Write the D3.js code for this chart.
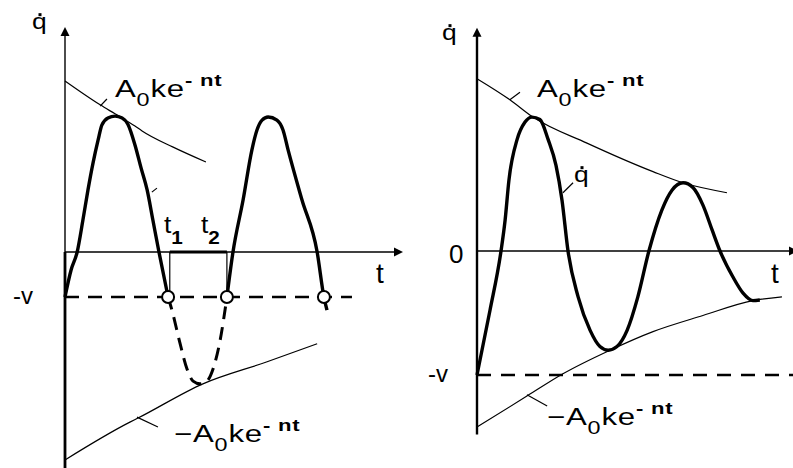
<!DOCTYPE html>
<html>
<head>
<meta charset="utf-8">
<script src="https://cdn.jsdelivr.net/npm/d3@7"></script>
<style>
  html, body { margin: 0; padding: 0; background: #fff; }
  svg { display: block; }
  text { font-family: "Liberation Sans", Arial, sans-serif; fill: #000; }
</style>
</head>
<body>
<svg id="chart" width="793" height="468"></svg>
<script>
// ---------- Left panel: impacts against the -v level ----------
// [t, q̇] points, q̇ in units of v
const leftLobe1 = [[0,-1.0],[0.18,-0.40],[0.36,0],[0.53,0.71],[0.68,1.38],[0.83,1.98],[0.98,2.49],
  [1.09,2.82],[1.27,2.98],[1.48,3.02],[1.69,2.98],[1.86,2.84],[2.07,2.38],[2.25,1.87],[2.43,1.38],
  [2.60,0.71],[2.78,0],[3.05,-1.0]];
const leftDip = [[3.05,-1.0],[3.17,-1.31],[3.40,-2.02],[3.61,-2.60],[3.79,-2.87],[3.99,-2.93],
  [4.20,-2.87],[4.38,-2.60],[4.59,-1.96],[4.79,-1.0]];
const leftLobe2 = [[4.79,-1.0],[4.97,0],[5.27,1.16],[5.53,2.27],[5.68,2.71],[5.83,2.93],[6.01,3.0],
  [6.27,2.93],[6.45,2.71],[6.60,2.27],[7.01,1.16],[7.46,0],[7.66,-1.0],[7.75,-1.29]];
const leftUpperEnv = [[0,3.80],[1.04,3.27],[1.48,3.07],[2.07,2.80],[2.28,2.69],[3.20,2.33],[4.17,2.0]];
const leftLowerEnv = [[0,-4.62],[1.92,-3.78],[2.16,-3.69],[4.08,-2.93],[5.98,-2.44],[7.46,-2.04]];
const leftImpacts = [3.05, 4.79, 7.66];
const leftInterval = [3.1, 4.79];          // t1, t2
const leftLevel = -1;                      // -v
const leftLevelEnd = 8.49;

// ---------- Right panel: damped response ----------
const rightCurve = [[0,-1.0],[0.41,-0.48],[0.76,0],[0.89,0.25],[1.01,0.57],[1.27,0.90],[1.52,1.04],
  [1.74,1.08],[1.99,1.06],[2.25,0.90],[2.50,0.69],[2.69,0.41],[2.88,0],[3.20,-0.37],[3.58,-0.64],
  [3.89,-0.77],[4.15,-0.80],[4.43,-0.77],[4.75,-0.64],[5.09,-0.37],[5.44,0],[5.85,0.33],[6.17,0.49],
  [6.52,0.55],[6.84,0.51],[7.15,0.37],[7.44,0.17],[7.69,0],[8.10,-0.21],[8.42,-0.34],[8.73,-0.40],
  [8.95,-0.395]];
const rightUpperEnv = [[0,1.39],[1.04,1.22],[1.77,1.08],[3.48,0.87],[5.57,0.64],[6.52,0.55],[7.91,0.47]];
const rightLowerEnv = [[0,-1.42],[1.58,-1.17],[2.72,-0.99],[4.21,-0.80],[5.57,-0.65],[7.15,-0.52],
  [8.73,-0.40],[9.65,-0.37]];
const rightLevel = -1;

// label texts
const levelLabel = "-v";
const zeroLabel = "0";
const timeLabel = "t";

// ---------- scales ----------
const xL = d3.scaleLinear().domain([0, 10]).range([65, 403]);
const yL = d3.scaleLinear().domain([-1, 0]).range([297, 252]);
const xR = d3.scaleLinear().domain([0, 10]).range([477, 793]);
const yR = d3.scaleLinear().domain([-1, 0]).range([375, 251]);

const svg = d3.select("#chart");
svg.append("rect").attr("width", 793).attr("height", 468).attr("fill", "#fff");

const lineL = d3.line().x(d => xL(d[0])).y(d => yL(d[1])).curve(d3.curveMonotoneX);
const lineR = d3.line().x(d => xR(d[0])).y(d => yR(d[1])).curve(d3.curveMonotoneX);

function seg(g, x1, y1, x2, y2, w) {
  return g.append("line").attr("x1", x1).attr("y1", y1).attr("x2", x2).attr("y2", y2)
    .attr("stroke", "#000").attr("stroke-width", w);
}
function arrowUp(g, x, y) {
  g.append("path").attr("d", `M${x},${y} L${x - 4.5},${y + 9} L${x + 4.5},${y + 9} Z`).attr("fill", "#000");
}
function arrowRight(g, x, y) {
  g.append("path").attr("d", `M${x},${y} L${x - 9},${y - 4.5} L${x - 9},${y + 4.5} Z`).attr("fill", "#000");
}
function qdot(g, x, y, size) {
  g.append("text").attr("transform", `translate(${x},${y}) scale(1.2,1)`)
    .style("font-size", size + "px").text("q");
  g.append("rect").attr("x", x + 6.5).attr("y", y - size * 0.72).attr("width", 3).attr("height", 3).attr("fill", "#000");
}
function formula(g, x, y, neg) {
  const t = g.append("text").attr("transform", `translate(${x},${y}) scale(1.3,1)`)
    .style("font-size", "24px").style("letter-spacing", "0.6px");
  if (neg) t.append("tspan").text("\u2212");
  t.append("tspan").text("A");
  t.append("tspan").attr("dy", 9).style("font-size", "18px").text("0");
  t.append("tspan").attr("dy", -9).text("ke");
  t.append("tspan").attr("dy", -11).style("font-size", "17px").style("font-weight", "bold").text("- nt");
}
function subLabel(g, x, y, main, sub) {
  const t = g.append("text").attr("transform", `translate(${x},${y}) scale(1.15,1)`).style("font-size", "23px");
  t.append("tspan").text(main);
  t.append("tspan").attr("dy", 11).style("font-size", "18px").style("font-weight", "bold").text(sub);
}

// ================= LEFT PANEL =================
const gl = svg.append("g");

// envelopes
gl.append("path").attr("d", lineL(leftUpperEnv)).attr("fill", "none").attr("stroke", "#000").attr("stroke-width", 1.2);
gl.append("path").attr("d", lineL(leftLowerEnv)).attr("fill", "none").attr("stroke", "#000").attr("stroke-width", 1.2);

// axes
seg(gl, xL(0), yL(5.0) + 6, xL(0), yL(0), 1.4);
seg(gl, xL(0), yL(0), xL(0), yL(-4.8), 2.8);
arrowUp(gl, xL(0), yL(5.0));
seg(gl, xL(0), yL(0), xL(10) - 6, yL(0), 1.3);
arrowRight(gl, xL(10), yL(0));

// -v level
seg(gl, xL(0), yL(leftLevel), xL(leftLevelEnd), yL(leftLevel), 2.6).attr("stroke-dasharray", "14,9");

// t1 - t2 interval
seg(gl, xL(leftInterval[0]), yL(0), xL(leftInterval[0]), yL(leftLevel), 1.2);
seg(gl, xL(leftInterval[1]), yL(0), xL(leftInterval[1]), yL(leftLevel), 1.2);
seg(gl, xL(leftInterval[0]), yL(0), xL(leftInterval[1]), yL(0), 3);

// response
gl.append("path").attr("d", lineL(leftDip)).attr("fill", "none").attr("stroke", "#000")
  .attr("stroke-width", 3).attr("stroke-dasharray", "13,8");
[leftLobe1, leftLobe2].forEach(p =>
  gl.append("path").attr("d", lineL(p)).attr("fill", "none").attr("stroke", "#000")
    .attr("stroke-width", 3.4).attr("stroke-linejoin", "round"));

// impact markers
gl.selectAll("circle.imp").data(leftImpacts).join("circle").attr("class", "imp")
  .attr("cx", d => xL(d)).attr("cy", yL(leftLevel)).attr("r", 6)
  .attr("fill", "#fff").attr("stroke", "#000").attr("stroke-width", 2);

// leaders
seg(gl, xL(1.04), yL(3.24), xL(1.24), yL(3.40), 1.2);
seg(gl, xL(2.57), yL(1.33), xL(2.72), yL(1.42), 1.2);
seg(gl, xL(2.13), yL(-3.67), xL(2.75), yL(-3.89), 1.2);

// labels
qdot(gl, 32, 29, 22);
formula(gl, 115, 97, false);
formula(gl, 174, 442, true);
gl.append("text").attr("x", 13).attr("y", 304).style("font-size", "24px").text(levelLabel);
gl.append("text").attr("x", 376).attr("y", 283).style("font-size", "28px").text(timeLabel);
subLabel(gl, 164, 233, "t", "1");
subLabel(gl, 201, 233, "t", "2");

// ================= RIGHT PANEL =================
const gr = svg.append("g");

gr.append("path").attr("d", lineR(rightUpperEnv)).attr("fill", "none").attr("stroke", "#000").attr("stroke-width", 1.2);
gr.append("path").attr("d", lineR(rightLowerEnv)).attr("fill", "none").attr("stroke", "#000").attr("stroke-width", 1.2);

seg(gr, xR(0), yR(1.80) + 6, xR(0), yR(-1.48), 2.4);
arrowUp(gr, xR(0), yR(1.80));
seg(gr, xR(0), yR(0), xR(10), yR(0), 1.3);
arrowRight(gr, xR(10) + 5, yR(0));

seg(gr, xR(0), yR(rightLevel), xR(10), yR(rightLevel), 2.6).attr("stroke-dasharray", "14,10");

gr.append("path").attr("d", lineR(rightCurve)).attr("fill", "none").attr("stroke", "#000")
  .attr("stroke-width", 3.4).attr("stroke-linejoin", "round");

seg(gr, xR(1.04), yR(1.22), xR(1.36), yR(1.28), 1.2);
seg(gr, xR(2.72), yR(0.47), xR(3.04), yR(0.55), 1.2);
seg(gr, xR(1.58), yR(-1.16), xR(2.22), yR(-1.25), 1.2);

qdot(gr, 442, 40, 22);
qdot(gr, 574, 182, 22);
formula(gr, 537, 97, false);
formula(gr, 547, 425, true);
gr.append("text").attr("x", 428).attr("y", 382).style("font-size", "24px").text(levelLabel);
gr.append("text").attr("x", 449).attr("y", 263).style("font-size", "26px").text(zeroLabel);
gr.append("text").attr("x", 771).attr("y", 283).style("font-size", "28px").text(timeLabel);
</script>
</body>
</html>
